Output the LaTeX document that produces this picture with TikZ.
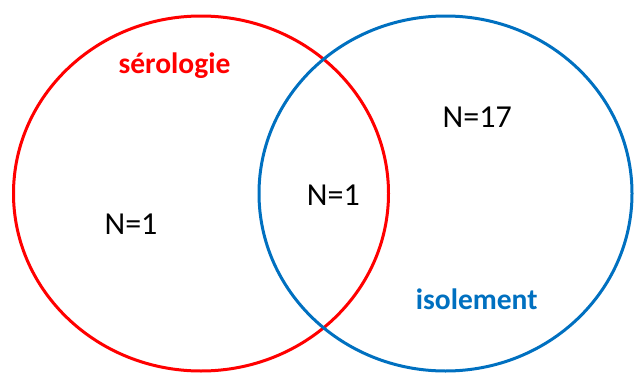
\documentclass[tikz,border=0pt]{standalone}
\usepackage{fontspec}
\setmainfont{Carlito}
\definecolor{vred}{HTML}{FF0000}
\definecolor{vblue}{HTML}{0070C0}
\begin{document}
\begin{tikzpicture}[x=1pt,y=-1pt,
  setline/.style={line width=3pt},
  count/.style={anchor=base,inner sep=0pt,font=\fontsize{32}{38}\selectfont},
  setname/.style={anchor=base,inner sep=0pt,font=\fontsize{29.5}{35}\selectfont\bfseries}]
\useasboundingbox (0,0) rectangle (634,372);
\draw[setline,vred] (201,193.5) ellipse [x radius=187.5pt,y radius=177.5pt];
\draw[setline,vblue] (445.5,193.5) ellipse [x radius=186.5pt,y radius=177.5pt];
\node[setname,text=vred] (sero) at (174.5,73.3) {sérologie};
\node[setname,text=vblue] (iso) at (476.7,309.3) {isolement};
\node[count] (nleft) at (131,234.3) {N=1};
\node[count] (nmid) at (333.3,205.3) {N=1};
\node[count] (nright) at (477.2,127.3) {N=17};
\end{tikzpicture}
\end{document}
